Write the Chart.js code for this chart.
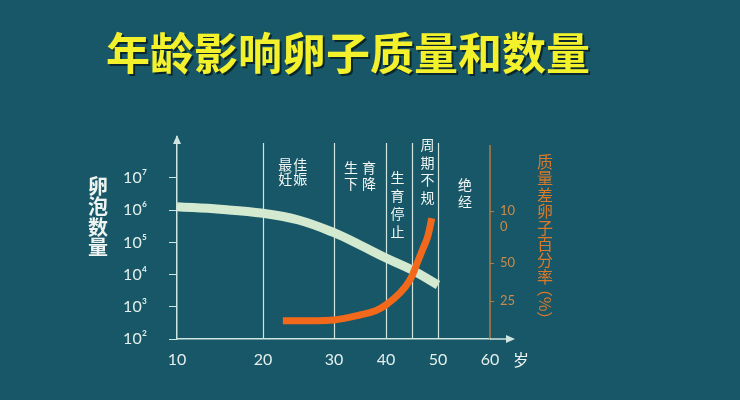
<!DOCTYPE html>
<html>
<head>
<meta charset="utf-8">
<script src="https://cdn.jsdelivr.net/npm/chart.js@4/dist/chart.umd.min.js"></script>
<style>
  html, body { margin: 0; padding: 0; background: #185767; }
  #wrap { width: 740px; height: 400px; position: relative; }
</style>
</head>
<body>
<div id="wrap"><canvas id="chart"></canvas></div>
<script>
// follicle count by age (log axis, left)
const ages = [10, 15, 20, 25, 30, 35, 40, 45, 50];
const follicleCount = [1285000, 1070000, 800000, 496000, 200000, 83000, 32800, 13900, 4750];

// share of poor quality eggs, % (right axis)
const qualityAges = [22.8, 26, 30, 35, 38, 40, 42.7, 44.6, 46, 47, 48, 48.8];
const poorEggPct = [12, 12, 12.5, 15.8, 18.6, 22.4, 30.3, 38.8, 50, 62.5, 75, 93];

const logTickPowers = [2, 3, 4, 5, 6, 7];
const qualityTicks = [25, 50, 100];
const stageBounds = [20, 30, 40, 45, 50];
const stageNames = ['最佳妊娠', '生育下降', '生育停止', '周期不规', '绝经'];

const SUP = { 2: '²', 3: '³', 4: '⁴', 5: '⁵', 6: '⁶', 7: '⁷' };

// the original axes are hand-drawn and unevenly spaced, so both linear axes
// map values piecewise: each segment between breaks gets its own share of the length
const PIECES = {
  x: { breaks: [10, 20, 30, 40, 50, 60], weights: [86, 71, 52, 52, 52] },
  yq: { breaks: [0, 50, 100, 170], weights: [76, 52, 74] }
};

class PiecewiseScale extends Chart.LinearScale {
  static id = 'piecewise';
  static defaults = {};
  toDecimal(v) {
    const { breaks, weights } = PIECES[this.id];
    const total = weights.reduce((a, b) => a + b, 0);
    let acc = 0;
    for (let i = 0; i < weights.length; i++) {
      if (v <= breaks[i + 1] || i === weights.length - 1) {
        return (acc + weights[i] * (v - breaks[i]) / (breaks[i + 1] - breaks[i])) / total;
      }
      acc += weights[i];
    }
  }
  getPixelForValue(v) {
    return v === null || v === undefined ? NaN : this.getPixelForDecimal(this.toDecimal(v));
  }
}
Chart.register(PiecewiseScale);

const PALE = '#cfe5df';
const ORANGE_AXIS = '#b97a3c';

const decor = {
  id: 'decor',
  beforeDatasetsDraw(chart) {
    const { ctx, chartArea, scales } = chart;
    ctx.save();
    ctx.strokeStyle = PALE;
    ctx.lineWidth = 1.2;
    stageBounds.forEach(a => {
      const x = Math.round(scales.x.getPixelForValue(a)) + 0.5;
      ctx.beginPath();
      ctx.moveTo(x, chartArea.top + 6);
      ctx.lineTo(x, chartArea.bottom);
      ctx.stroke();
    });
    // right (orange) axis line, a bit shorter than the left one
    ctx.strokeStyle = ORANGE_AXIS;
    ctx.lineWidth = 1.5;
    ctx.beginPath();
    ctx.moveTo(chartArea.right, chartArea.top + 8);
    ctx.lineTo(chartArea.right, chartArea.bottom);
    ctx.stroke();
    ctx.restore();
  },
  afterDraw(chart) {
    const { ctx, chartArea, scales } = chart;
    ctx.save();

    // arrows on the axes
    ctx.fillStyle = PALE;
    ctx.strokeStyle = PALE;
    ctx.lineWidth = 1.5;
    const l = chartArea.left, t = chartArea.top, b = chartArea.bottom, r = chartArea.right;
    ctx.beginPath();
    ctx.moveTo(l, t - 2); ctx.lineTo(l - 4, t + 7); ctx.lineTo(l + 4, t + 7); ctx.closePath();
    ctx.fill();
    ctx.beginPath();
    ctx.moveTo(r, b); ctx.lineTo(508, b); ctx.stroke();
    ctx.beginPath();
    ctx.moveTo(515, b); ctx.lineTo(506, b - 4); ctx.lineTo(506, b + 4); ctx.closePath();
    ctx.fill();

    // title
    ctx.font = 'bold 44px "Noto Sans CJK SC"';
    ctx.textAlign = 'center';
    ctx.textBaseline = 'middle';
    ctx.shadowColor = 'rgba(0,0,0,0.55)';
    ctx.shadowOffsetX = 2;
    ctx.shadowOffsetY = 2;
    ctx.fillStyle = '#f3f02c';
    ctx.fillText('年龄影响卵子质量和数量', 348, 53);
    ctx.shadowColor = 'transparent';

    // left axis title, stacked vertically
    ctx.font = 'bold 20px "Noto Sans CJK SC"';
    ctx.fillStyle = '#eef4f2';
    [...'卵泡数量'].forEach((c, i) => ctx.fillText(c, 98, 186 + i * 20.5));

    // right axis title
    ctx.font = '16px "Noto Sans CJK SC"';
    ctx.fillStyle = '#d8792c';
    [...'质量差卵子百分率'].forEach((c, i) => ctx.fillText(c, 545, 162 + i * 16.4));
    ctx.save();
    ctx.translate(545, 304);
    ctx.rotate(Math.PI / 2);
    ctx.fillText('（%）', 0, 0);
    ctx.restore();

    // stage labels between the vertical lines
    const layout = [
      { age: 24.2, top: 165, cols: 2, dx: 15, dy: 14 },
      { age: 35, top: 168, cols: 2, dx: 18, dy: 16 },
      { age: 42.2, top: 178, cols: 1, dx: 0, dy: 18 },
      { age: 48, top: 145, cols: 1, dx: 0, dy: 17.5 },
      { age: 55.2, top: 185, cols: 1, dx: 0, dy: 17 }
    ];
    ctx.font = '14px "Noto Sans CJK SC"';
    ctx.fillStyle = '#f2f6f4';
    stageNames.forEach((name, i) => {
      const p = layout[i];
      const cx = scales.x.getPixelForValue(p.age);
      [...name].forEach((c, k) => {
        const row = Math.floor(k / p.cols), col = k % p.cols;
        ctx.fillText(c, cx + (col - (p.cols - 1) / 2) * p.dx, p.top + row * p.dy);
      });
    });

    // unit of the age axis
    ctx.font = '16px "Noto Sans CJK SC"';
    ctx.fillStyle = '#eef4f2';
    ctx.fillText('岁', 521, 360);

    ctx.restore();
  }
};

new Chart(document.getElementById('chart'), {
  type: 'line',
  data: {
    datasets: [
      {
        label: '质量差卵子百分率',
        data: qualityAges.map((a, i) => ({ x: a, y: poorEggPct[i] })),
        borderColor: '#f3691c',
        borderWidth: 7,
        pointRadius: 0,
        tension: 0.4,
        xAxisID: 'x',
        yAxisID: 'yq'
      },
      {
        label: '卵泡数量',
        data: ages.map((a, i) => ({ x: a, y: follicleCount[i] })),
        borderColor: '#d4ead0',
        borderWidth: 9,
        pointRadius: 0,
        tension: 0.4,
        xAxisID: 'x',
        yAxisID: 'y'
      }
    ]
  },
  options: {
    responsive: true,
    maintainAspectRatio: false,
    animation: false,
    events: [],
    layout: { padding: { top: 137, left: 0, right: 0, bottom: 0 } },
    plugins: { legend: { display: false }, tooltip: { enabled: false } },
    scales: {
      x: {
        type: 'piecewise',
        min: 10,
        max: 60,
        ticks: {
          stepSize: 10,
          autoSkip: false,
          maxRotation: 0,
          padding: 11,
          color: '#e4efed',
          font: { family: 'Lato', size: 16 }
        },
        grid: { display: false, drawTicks: false },
        border: { display: true, color: PALE, width: 1.5 },
        afterFit: s => { s.height = 61; }
      },
      y: {
        type: 'logarithmic',
        position: 'left',
        min: 100,
        max: 1.875e8,
        afterBuildTicks: s => { s.ticks = logTickPowers.map(p => ({ value: Math.pow(10, p) })); },
        ticks: {
          padding: 22,
          color: '#e4efed',
          font: { family: 'Lato, "DejaVu Sans"', size: 16 },
          callback: v => '10' + SUP[Math.round(Math.log10(v))]
        },
        grid: { drawOnChartArea: false, drawTicks: true, tickLength: 8, color: PALE },
        border: { display: true, color: PALE, width: 1.5 },
        afterFit: s => { s.width = 177; }
      },
      yq: {
        type: 'piecewise',
        position: 'right',
        min: 0,
        max: 170,
        afterBuildTicks: s => { s.ticks = qualityTicks.map(v => ({ value: v })); },
        ticks: {
          padding: 6,
          color: '#c98a4a',
          font: { family: 'Lato', size: 13 },
          // the reference wraps "100" onto two lines below the tick
          callback: v => v === 100 ? ['', '10', '0'] : String(v)
        },
        grid: { drawOnChartArea: false, drawTicks: true, tickLength: 4, color: ORANGE_AXIS },
        border: { display: false },
        afterFit: s => { s.width = 250; }
      }
    }
  },
  plugins: [decor]
});
</script>
</body>
</html>
